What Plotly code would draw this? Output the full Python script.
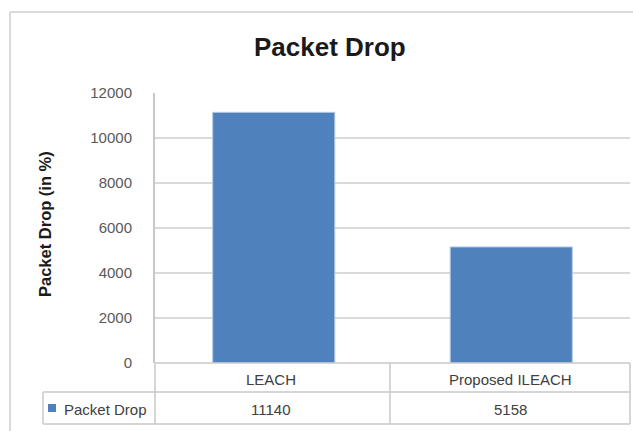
import plotly.graph_objects as go

categories = ["LEACH", "Proposed ILEACH"]
values = [11140, 5158]
series_name = "Packet Drop"
y_ticks = [0, 2000, 4000, 6000, 8000, 10000, 12000]
y_tick_labels = ["0", "2000", "4000", "6000", "8000", "10000", "12000"]
title_text = "Packet Drop"
y_title = "Packet Drop (in %)"

W, H = 633, 431
L, R, T, B = 155, 3, 93, 68
PW, PH = W - L - R, H - T - B

def px(x):
    return (x - L) / PW

def py(y):
    return (H - B - y) / PH

BAR = "#4f81bd"
GRID = "#d9d9d9"
FONT = "Liberation Sans, Arial, sans-serif"

fig = go.Figure()
fig.add_trace(go.Bar(
    x=categories, y=values, name=series_name,
    marker=dict(color=BAR, line=dict(color="#b3c8e3", width=1)),
    showlegend=False,
))

shapes = []
# outer chart border
shapes.append(dict(type="line", xref="paper", yref="paper", x0=px(10), x1=px(640), y0=py(12), y1=py(12),
                   line=dict(color="#d9d9d9", width=2)))
shapes.append(dict(type="line", xref="paper", yref="paper", x0=px(10), x1=px(10), y0=py(12), y1=py(440),
                   line=dict(color="#d9d9d9", width=2)))
tl = dict(color="#c8c8c8", width=1.5)
row1_top, row2_top, row2_bot = 363, 392, 424
# table horizontals
shapes.append(dict(type="line", xref="paper", yref="paper", x0=px(155), x1=px(630), y0=py(row1_top), y1=py(row1_top), line=tl))
shapes.append(dict(type="line", xref="paper", yref="paper", x0=px(43), x1=px(630), y0=py(row2_top), y1=py(row2_top), line=tl))
shapes.append(dict(type="line", xref="paper", yref="paper", x0=px(43), x1=px(630), y0=py(row2_bot), y1=py(row2_bot), line=tl))
# table verticals
for xv in [155, 390, 630]:
    shapes.append(dict(type="line", xref="paper", yref="paper", x0=px(xv), x1=px(xv), y0=py(row1_top), y1=py(row2_bot), line=tl))
shapes.append(dict(type="line", xref="paper", yref="paper", x0=px(43), x1=px(43), y0=py(row2_top), y1=py(row2_bot), line=tl))
# legend key
shapes.append(dict(type="rect", xref="paper", yref="paper", x0=px(48), x1=px(56), y0=py(404), y1=py(412),
                   fillcolor=BAR, line=dict(width=0)))

annotations = []
annotations.append(dict(text="<b>" + title_text + "</b>", xref="paper", yref="paper", x=px(330), y=py(47),
                        showarrow=False, font=dict(size=26, color="#1a1a1a", family=FONT), xanchor="center", yanchor="middle"))
annotations.append(dict(text="<b>" + y_title + "</b>", xref="paper", yref="paper", x=px(45), y=py(224),
                        showarrow=False, textangle=-90, font=dict(size=16.5, color="#1a1a1a", family=FONT),
                        xanchor="center", yanchor="middle"))
col_centers = [271, 510]
for c, cx in zip(categories, col_centers):
    annotations.append(dict(text=c, xref="paper", yref="paper", x=px(cx), y=py(379), showarrow=False,
                            font=dict(size=15, color="#404040", family=FONT), xanchor="center", yanchor="middle"))
for v, cx in zip(values, col_centers):
    annotations.append(dict(text=str(v), xref="paper", yref="paper", x=px(cx), y=py(409), showarrow=False,
                            font=dict(size=15, color="#404040", family=FONT), xanchor="center", yanchor="middle"))
annotations.append(dict(text=series_name, xref="paper", yref="paper", x=px(62), y=py(409), showarrow=False,
                        font=dict(size=15, color="#404040", family=FONT), xanchor="left", yanchor="middle"))

fig.update_layout(
    width=W, height=H,
    margin=dict(l=L, r=R, t=T, b=B, pad=0),
    paper_bgcolor="white", plot_bgcolor="white",
    bargap=0.486,
    shapes=shapes, annotations=annotations,
    font=dict(family=FONT),
    xaxis=dict(showticklabels=False, showgrid=False, zeroline=False, showline=False, ticks=""),
    yaxis=dict(range=[0, 12000], tickvals=y_ticks, ticktext=y_tick_labels, showgrid=True, gridcolor=GRID, gridwidth=2,
               zeroline=False, showline=True, linecolor="#c8c8c8", linewidth=2,
               ticks="outside", ticklen=0, tickfont=dict(size=15, color="#595959", family=FONT),
               ticklabelstandoff=18),
)

fig.write_html("out.html")
